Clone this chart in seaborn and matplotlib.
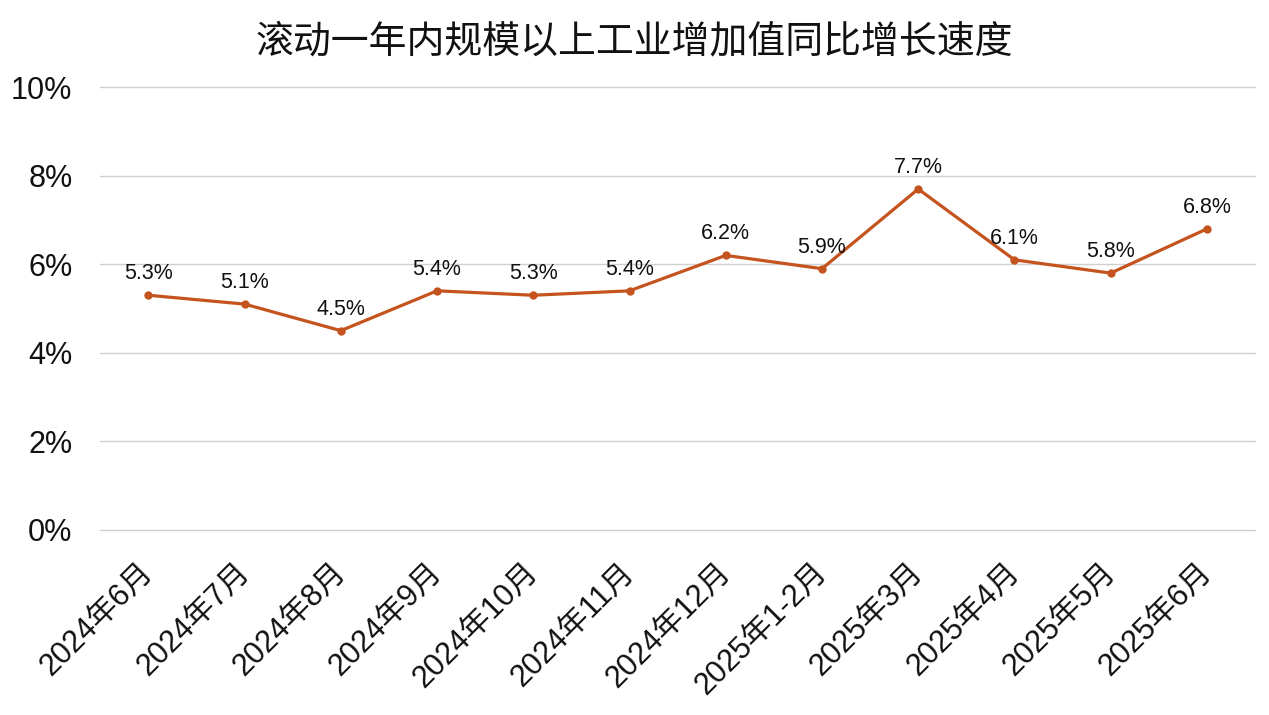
import matplotlib
matplotlib.use('Agg')
import matplotlib.pyplot as plt
import matplotlib.transforms as mtransforms
import seaborn as sns
import pandas as pd
from matplotlib.ticker import FuncFormatter

months = ['2024年6月', '2024年7月', '2024年8月', '2024年9月', '2024年10月', '2024年11月',
          '2024年12月', '2025年1-2月', '2025年3月', '2025年4月', '2025年5月', '2025年6月']
growth = [5.3, 5.1, 4.5, 5.4, 5.3, 5.4, 6.2, 5.9, 7.7, 6.1, 5.8, 6.8]
y_ticks = [0, 2, 4, 6, 8, 10]

sns.set_style('white')
plt.rcParams['font.family'] = ['Liberation Sans', 'Noto Sans CJK SC', 'DejaVu Sans']

df = pd.DataFrame({'month': months, 'growth': growth})
line_color = '#C5531E'

fig = plt.figure(figsize=(12.69, 7.15), dpi=100)
ax = fig.add_axes([0.079, 0.259, 0.910, 0.619])

sns.lineplot(data=df, x='month', y='growth', ax=ax, color=line_color,
             linewidth=2.3, marker='o', markersize=6, markeredgewidth=0, sort=False)

for i, v in enumerate(growth):
    ax.annotate(f'{v}%', (i, v), xytext=(0, 8), textcoords='offset points',
                ha='center', va='bottom', fontsize=15.5, color='#111111')

ax.set_xlim(-0.5, len(months) - 0.5)
ax.set_ylim(0, 10)
ax.set_yticks(y_ticks)
ax.yaxis.set_major_formatter(FuncFormatter(lambda v, p: f'{v:.0f}%'))
ax.grid(axis='y', color='#d0d0d0', linewidth=1)
for gl in ax.get_ygridlines():
    gl.set_clip_on(False)
ax.set_axisbelow(True)
for s in ax.spines.values():
    s.set_visible(False)
ax.tick_params(axis='y', labelsize=22, pad=20, length=0, labelcolor='#111111')
ax.tick_params(axis='x', labelsize=22, pad=14, length=0, labelcolor='#111111')
shift = mtransforms.ScaledTranslation(-0.10, -0.08, fig.dpi_scale_trans)
for lbl in ax.get_xticklabels():
    lbl.set_rotation(45)
    lbl.set_ha('right')
    lbl.set_rotation_mode('anchor')
    lbl.set_transform(lbl.get_transform() + shift)
ax.set_xlabel('')
ax.set_ylabel('')

fig.suptitle('滚动一年内规模以上工业增加值同比增长速度', y=0.966, fontsize=27.3,
             fontweight='normal', color='#111111')

fig.savefig('out.png', dpi=100, facecolor='white')
